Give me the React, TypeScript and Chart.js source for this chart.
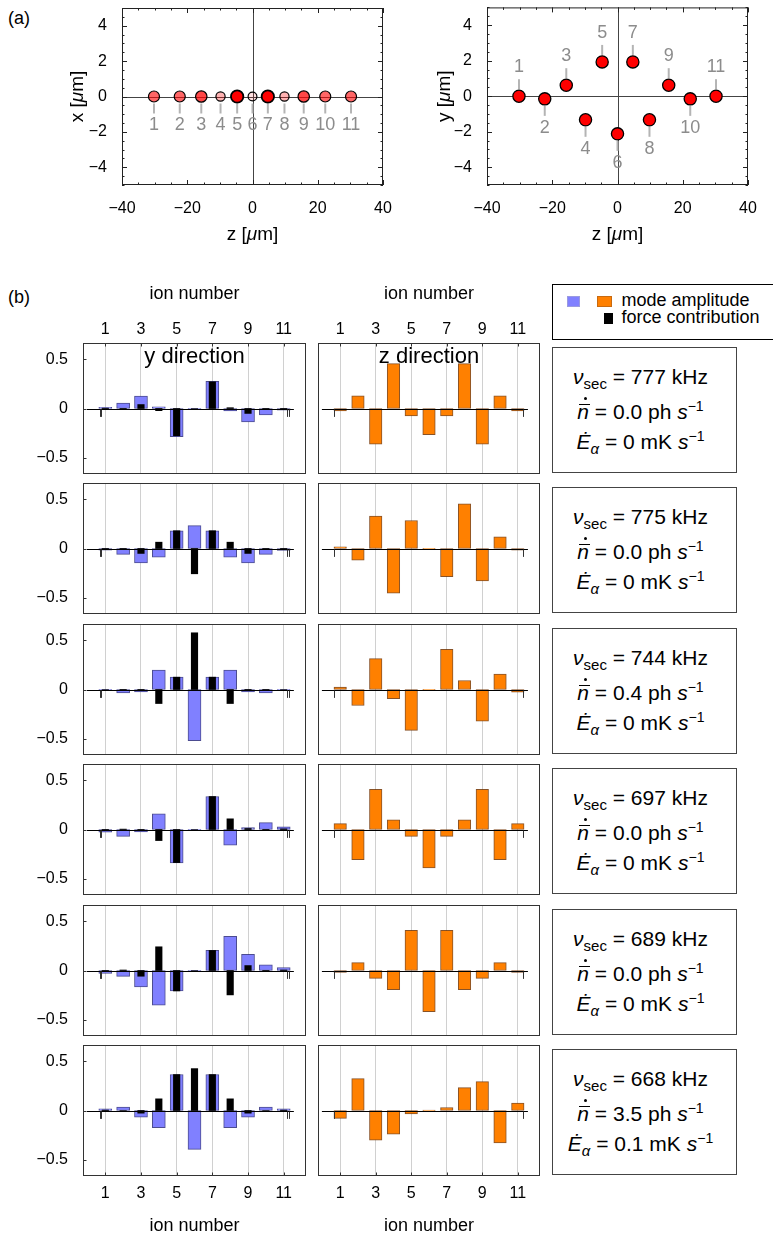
import React, { useEffect, useRef } from 'react';
import { Chart, registerables } from 'chart.js';

Chart.register(...registerables);

const FONT = "'Liberation Sans', Arial, Helvetica, sans-serif";

// ---------------- Panel (a): ion crystal positions ----------------
const ION_NUMBERS = [1, 2, 3, 4, 5, 6, 7, 8, 9, 10, 11];
const ION_Z_UM = [-30.2, -22.3, -15.7, -9.8, -4.7, 0, 4.7, 9.8, 15.7, 22.3, 30.2];
const ION_X_UM = [0, 0, 0, 0, 0, 0, 0, 0, 0, 0, 0];
const ION_Y_UM = [0, -0.15, 0.62, -1.33, 1.93, -2.12, 1.93, -1.33, 0.62, -0.15, 0];
const Z_AXIS_TICKS = [-40, -20, 0, 20, 40];
const TRANSVERSE_TICKS = [-4, -2, 0, 2, 4];

// marker appearance in the x–z view (shade / size per ion)
const XZ_MARKER_ALPHA = [0.6, 0.6, 0.72, 0.3, 1, 0.12, 1, 0.3, 0.72, 0.6, 0.6];
const XZ_MARKER_RADIUS = [5.5, 5.5, 5.7, 4.6, 6.2, 4.4, 6.2, 4.6, 5.7, 5.5, 5.5];

// ---------------- Panel (b): mode vectors ----------------
const ION_AXIS_TICKS = [1, 3, 5, 7, 9, 11];
const AMPLITUDE_TICKS = [-0.5, 0, 0.5];
const MODE_FREQ_KHZ = [777, 775, 744, 697, 689, 668];
const PHONON_RATE = ['0.0', '0.0', '0.4', '0.0', '0.0', '3.5'];
const HEATING_RATE = ['0', '0', '0', '0', '0', '0.1'];

const Y_AMP_777 = [0.012, 0.054, 0.125, 0.017, -0.286, -0.004, 0.276, -0.024, -0.135, -0.064, -0.017];
const FORCE_777 = [0.004, 0.002, 0.04, -0.022, -0.275, 0, 0.27, 0.008, -0.05, -0.002, -0.01];
const Z_AMP_777 = [-0.024, 0.128, -0.36, 0.455, -0.074, -0.266, -0.074, 0.455, -0.36, 0.128, -0.024];

const Y_AMP_775 = [-0.017, -0.06, -0.145, -0.088, 0.18, 0.232, 0.18, -0.088, -0.145, -0.06, -0.02];
const FORCE_775 = [-0.003, -0.004, -0.05, 0.064, 0.18, -0.256, 0.18, 0.064, -0.05, -0.006, -0.003];
const Z_AMP_775 = [0.017, -0.118, 0.327, -0.451, 0.283, 0.002, -0.286, 0.451, -0.327, 0.118, -0.017];

const Y_AMP_744 = [-0.004, -0.034, -0.024, 0.196, 0.125, -0.517, 0.125, 0.196, -0.024, -0.034, -0.004];
const FORCE_744 = [0, -0.002, -0.008, -0.142, 0.125, 0.574, 0.125, -0.142, -0.006, -0.002, 0];
const Z_AMP_744 = [0.024, -0.162, 0.313, -0.094, -0.414, 0.002, 0.407, 0.091, -0.32, 0.155, -0.027];

const Y_AMP_697 = [-0.027, -0.07, -0.024, 0.159, -0.338, 0.002, 0.334, -0.159, 0.02, 0.07, 0.027];
const FORCE_697 = [-0.006, 0.004, -0.01, -0.112, -0.335, 0, 0.334, 0.108, 0.01, -0.004, 0.006];
const Z_AMP_697 = [0.06, -0.306, 0.407, 0.098, -0.07, -0.39, -0.07, 0.098, 0.407, -0.306, 0.06];

const Y_AMP_689 = [-0.03, -0.06, -0.166, -0.352, -0.207, 0.002, 0.203, 0.346, 0.163, 0.058, 0.03];
const FORCE_689 = [-0.004, 0.005, -0.058, 0.24, -0.207, 0, 0.203, -0.247, 0.05, -0.005, 0.005];
const Z_AMP_689 = [-0.02, 0.08, -0.08, -0.195, 0.407, -0.417, 0.407, -0.195, -0.08, 0.08, -0.02];

const Y_AMP_668 = [0.017, 0.034, -0.067, -0.175, 0.364, -0.394, 0.364, -0.175, -0.067, 0.034, 0.017];
const FORCE_668 = [0.005, 0, -0.027, 0.118, 0.364, 0.424, 0.364, 0.118, -0.027, 0, 0.005];
const Z_AMP_668 = [-0.08, 0.323, -0.3, -0.24, -0.034, 0.003, 0.03, 0.232, 0.293, -0.327, 0.074];

const Y_AMPS = [Y_AMP_777, Y_AMP_775, Y_AMP_744, Y_AMP_697, Y_AMP_689, Y_AMP_668];
const FORCES = [FORCE_777, FORCE_775, FORCE_744, FORCE_697, FORCE_689, FORCE_668];
const Z_AMPS = [Z_AMP_777, Z_AMP_775, Z_AMP_744, Z_AMP_697, Z_AMP_689, Z_AMP_668];

// ---------------- layout constants ----------------
const ROW_TOPS = [343, 483, 624, 764, 905, 1045];
const ROW_H = 131;
const BASELINE_FROM = -0.03;
const BASELINE_TO = 11.57;
const Y_PANEL_STUBS = [0.68, 0.78, 11.2, 11.3];
const Z_PANEL_STUBS = [0.66, 11.3];
const STUB_DEPTH = 0.085;

const fmtNum = (v: number) => (v < 0 ? '\u2212' + Math.abs(v) : String(v));

function sizeFix(size: number) {
  return (s: any) => {
    if (s.isHorizontal()) s.height = size;
    else s.width = size;
    s.paddingLeft = 0;
    s.paddingRight = 0;
    s.paddingTop = 0;
    s.paddingBottom = 0;
  };
}

function drawMixed(ctx: CanvasRenderingContext2D, parts: [string, boolean][], cx: number, cy: number, size: number, rotate: boolean) {
  ctx.save();
  ctx.translate(cx, cy);
  if (rotate) ctx.rotate(-Math.PI / 2);
  ctx.textBaseline = 'middle';
  ctx.textAlign = 'left';
  ctx.fillStyle = '#000';
  const fonts = parts.map(([, it]) => `${it ? 'italic ' : ''}${size}px ${FONT}`);
  let total = 0;
  const widths = parts.map(([t], i) => {
    ctx.font = fonts[i];
    const w = ctx.measureText(t).width;
    total += w;
    return w;
  });
  let x = -total / 2;
  parts.forEach(([t], i) => {
    ctx.font = fonts[i];
    ctx.fillText(t, x, 0);
    x += widths[i];
  });
  ctx.restore();
}

// ---------------- panel (a) config ----------------
function ionDeco(view: 'xz' | 'yz', yTitleX: number) {
  return {
    id: 'ionDeco',
    beforeDatasetsDraw(chart: any) {
      const { ctx, chartArea: a, scales } = chart;
      const xs = scales.x;
      const ys = scales.y;
      const vals = view === 'xz' ? ION_X_UM : ION_Y_UM;
      ctx.save();
      ctx.strokeStyle = '#444';
      ctx.lineWidth = 1;
      const x0 = Math.round(xs.getPixelForValue(0)) + 0.5;
      const y0 = Math.round(ys.getPixelForValue(0)) + 0.5;
      ctx.beginPath();
      ctx.moveTo(a.left, y0);
      ctx.lineTo(a.right, y0);
      ctx.moveTo(x0, a.top);
      ctx.lineTo(x0, a.bottom);
      ctx.stroke();
      // connectors
      ctx.strokeStyle = '#b4b4b4';
      ctx.lineWidth = 2;
      ION_NUMBERS.forEach((n, i) => {
        const side = view === 'xz' ? 1 : n % 2 === 1 ? -1 : 1;
        const px = xs.getPixelForValue(ION_Z_UM[i]);
        const py = ys.getPixelForValue(vals[i]);
        ctx.beginPath();
        ctx.moveTo(px, py + side * 7);
        ctx.lineTo(px, py + side * 17);
        ctx.stroke();
      });
      ctx.restore();
    },
    afterDatasetsDraw(chart: any) {
      const { ctx, scales } = chart;
      const xs = scales.x;
      const ys = scales.y;
      const vals = view === 'xz' ? ION_X_UM : ION_Y_UM;
      ctx.save();
      ctx.fillStyle = '#8c8c8c';
      ctx.font = `18px ${FONT}`;
      ctx.textAlign = 'center';
      ctx.textBaseline = 'middle';
      ION_NUMBERS.forEach((n, i) => {
        const side = view === 'xz' ? 1 : n % 2 === 1 ? -1 : 1;
        const px = xs.getPixelForValue(ION_Z_UM[i]);
        const py = ys.getPixelForValue(vals[i]);
        ctx.fillText(String(n), px, py + side * 29);
      });
      ctx.restore();
    },
    afterDraw(chart: any) {
      const { ctx, chartArea: a, scales } = chart;
      const xs = scales.x;
      const ys = scales.y;
      ctx.save();
      ctx.strokeStyle = '#222';
      ctx.lineWidth = 1;
      ctx.strokeRect(a.left + 0.5, a.top + 0.5, a.right - a.left - 1, a.bottom - a.top - 1);
      ctx.beginPath();
      for (let v = -40; v <= 40; v += 5) {
        const len = v % 20 === 0 ? 5 : 2.5;
        const px = Math.round(xs.getPixelForValue(v)) + 0.5;
        ctx.moveTo(px, a.bottom);
        ctx.lineTo(px, a.bottom - len);
        ctx.moveTo(px, a.top);
        ctx.lineTo(px, a.top + len);
      }
      for (let v = -5; v <= 5; v += 0.5) {
        const len = Math.abs(v % 2) < 1e-9 ? 5 : 2.5;
        const py = Math.round(ys.getPixelForValue(v)) + 0.5;
        ctx.moveTo(a.left, py);
        ctx.lineTo(a.left + len, py);
        ctx.moveTo(a.right, py);
        ctx.lineTo(a.right - len, py);
      }
      ctx.stroke();
      ctx.restore();
      drawMixed(ctx, [['z [', false], ['\u03bc', true], ['m]', false]], (a.left + a.right) / 2, 235, 19, false);
      drawMixed(ctx, [[view === 'xz' ? 'x [' : 'y [', false], ['\u03bc', true], ['m]', false]], yTitleX, (a.top + a.bottom) / 2, 19, true);
    },
  };
}

function ionConfig(view: 'xz' | 'yz') {
  const vals = view === 'xz' ? ION_X_UM : ION_Y_UM;
  const yAxisW = view === 'xz' ? 82 : 87;
  const yTitleX = view === 'xz' ? 38 : 45;
  return {
    type: 'scatter',
    data: {
      datasets: [
        {
          data: ION_Z_UM.map((z, i) => ({ x: z, y: vals[i] })),
          pointRadius: view === 'xz' ? XZ_MARKER_RADIUS : 6.1,
          pointBackgroundColor: view === 'xz' ? XZ_MARKER_ALPHA.map((al) => `rgba(255,0,0,${al})`) : '#ff0000',
          pointBorderColor: '#000',
          pointBorderWidth: view === 'xz' ? XZ_MARKER_ALPHA.map((al) => (al === 1 ? 1.8 : 1.2)) : 1.3,
        },
      ],
    },
    options: {
      responsive: false,
      animation: false,
      devicePixelRatio: 1,
      layout: { padding: { top: 3, right: 12, left: 0, bottom: 0 } },
      plugins: { legend: { display: false }, tooltip: { enabled: false } },
      scales: {
        x: {
          type: 'linear',
          min: -40,
          max: 40,
          afterBuildTicks: (s: any) => {
            s.ticks = Z_AXIS_TICKS.map((v) => ({ value: v }));
          },
          afterFit: sizeFix(65),
          grid: { display: false },
          border: { display: false },
          ticks: { font: { family: FONT, size: 16 }, color: '#000', padding: 6, maxRotation: 0, autoSkip: false, callback: (v: any) => fmtNum(Number(v)) },
        },
        y: {
          type: 'linear',
          min: -5,
          max: 5,
          afterBuildTicks: (s: any) => {
            s.ticks = TRANSVERSE_TICKS.map((v) => ({ value: v }));
          },
          afterFit: sizeFix(yAxisW),
          grid: { display: false },
          border: { display: false },
          ticks: { font: { family: FONT, size: 16 }, color: '#000', padding: 7, autoSkip: false, callback: (v: any) => fmtNum(Number(v)) },
        },
      },
    },
    plugins: [ionDeco(view, yTitleX)],
  };
}

// ---------------- panel (b) config ----------------
function barDeco(opts: { title?: string; stubs: number[]; yTicks: boolean; tickEdge: 'top' | 'bottom' | null }) {
  return {
    id: 'barDeco',
    afterDatasetsDraw(chart: any) {
      const { ctx, chartArea: a, scales } = chart;
      const xs = scales.x;
      const ys = scales.y;
      const y0 = Math.round(ys.getPixelForValue(0)) + 0.5;
      ctx.save();
      ctx.strokeStyle = '#000';
      ctx.lineWidth = 1.2;
      ctx.beginPath();
      ctx.moveTo(xs.getPixelForValue(BASELINE_FROM), y0);
      ctx.lineTo(xs.getPixelForValue(BASELINE_TO), y0);
      ctx.stroke();
      ctx.lineWidth = 1;
      ctx.strokeStyle = '#333';
      ctx.beginPath();
      opts.stubs.forEach((s) => {
        const px = Math.round(xs.getPixelForValue(s)) + 0.5;
        ctx.moveTo(px, y0);
        ctx.lineTo(px, ys.getPixelForValue(-STUB_DEPTH));
      });
      ctx.stroke();
      if (opts.title) {
        ctx.fillStyle = '#000';
        ctx.font = `22px ${FONT}`;
        ctx.textAlign = 'center';
        ctx.textBaseline = 'middle';
        ctx.fillText(opts.title, (a.left + a.right) / 2, a.top + 14);
      }
      ctx.restore();
    },
    afterDraw(chart: any) {
      const { ctx, chartArea: a, scales } = chart;
      const xs = scales.x;
      const ys = scales.y;
      ctx.save();
      ctx.strokeStyle = '#333';
      ctx.lineWidth = 1;
      ctx.strokeRect(a.left + 0.5, a.top + 0.5, a.right - a.left - 1, a.bottom - a.top - 1);
      ctx.beginPath();
      if (opts.yTicks) {
        AMPLITUDE_TICKS.forEach((v) => {
          const py = Math.round(ys.getPixelForValue(v)) + 0.5;
          ctx.moveTo(a.left, py);
          ctx.lineTo(a.left + 3.5, py);
        });
      }
      if (opts.tickEdge) {
        ION_AXIS_TICKS.forEach((v) => {
          const px = Math.round(xs.getPixelForValue(v)) + 0.5;
          if (opts.tickEdge === 'top') {
            ctx.moveTo(px, a.top);
            ctx.lineTo(px, a.top + 3.5);
          } else {
            ctx.moveTo(px, a.bottom);
            ctx.lineTo(px, a.bottom - 3.5);
          }
        });
      }
      ctx.stroke();
      ctx.restore();
    },
  };
}

function pts(vals: number[]) {
  return ION_NUMBERS.map((n, i) => ({ x: n, y: vals[i] }));
}

function barChartConfig(row: number, dir: 'y' | 'z') {
  const isTop = row === 0;
  const isBottom = row === ROW_TOPS.length - 1;
  const xAxisSize = isTop ? 73 : isBottom ? 63 : 3;
  const datasets =
    dir === 'y'
      ? [
          { label: 'force contribution', data: pts(FORCES[row]), backgroundColor: '#000', borderWidth: 0, barThickness: 6.5, grouped: false, order: 1 },
          { label: 'mode amplitude', data: pts(Y_AMPS[row]), backgroundColor: '#8080ff', borderColor: 'rgba(45,45,125,0.85)', borderWidth: 1, borderSkipped: false, barThickness: 13, grouped: false, order: 2 },
        ]
      : [
          { label: 'mode amplitude', data: pts(Z_AMPS[row]), backgroundColor: '#ff8000', borderColor: 'rgba(115,52,0,0.85)', borderWidth: 1, borderSkipped: false, barThickness: 12.5, grouped: false },
        ];
  return {
    type: 'bar',
    data: { datasets },
    options: {
      responsive: false,
      animation: false,
      devicePixelRatio: 1,
      layout: { padding: { left: dir === 'y' ? 0 : 4, right: 3, top: isTop ? 0 : 3, bottom: isTop ? 3 : 0 } },
      plugins: { legend: { display: false }, tooltip: { enabled: false } },
      scales: {
        x: {
          type: 'linear',
          position: isTop ? 'top' : 'bottom',
          min: -0.25,
          max: 12.25,
          offset: false,
          afterBuildTicks: (s: any) => {
            s.ticks = ION_AXIS_TICKS.map((v) => ({ value: v }));
          },
          afterFit: sizeFix(xAxisSize),
          grid: { color: '#d0d0d0', lineWidth: 1, drawTicks: false, offset: false },
          border: { display: false },
          ticks: { display: isTop || isBottom, font: { family: FONT, size: 16 }, color: '#000', padding: isTop ? 4 : 8, maxRotation: 0, autoSkip: false },
          title: {
            display: isTop || isBottom,
            text: 'ion number',
            font: { family: FONT, size: 18 },
            color: '#000',
            padding: isTop ? { top: 13, bottom: 0 } : { top: 0, bottom: 2 },
          },
        },
        y: {
          type: 'linear',
          display: dir === 'y',
          min: -0.663,
          max: 0.663,
          afterBuildTicks: (s: any) => {
            s.ticks = AMPLITUDE_TICKS.map((v) => ({ value: v }));
          },
          afterFit: dir === 'y' ? sizeFix(53) : undefined,
          grid: { display: false },
          border: { display: false },
          ticks: { font: { family: FONT, size: 16 }, color: '#000', padding: 7, autoSkip: false, callback: (v: any) => fmtNum(Number(v)) },
        },
      },
    },
    plugins: [
      barDeco({
        title: isTop ? (dir === 'y' ? 'y direction' : 'z direction') : undefined,
        stubs: dir === 'y' ? Y_PANEL_STUBS : Z_PANEL_STUBS,
        yTicks: dir === 'y',
        tickEdge: isTop ? 'top' : isBottom ? 'bottom' : null,
      }),
    ],
  };
}

// ---------------- components ----------------
function ChartBox({ left, top, width, height, make }: { left: number; top: number; width: number; height: number; make: () => any }) {
  const ref = useRef<HTMLCanvasElement | null>(null);
  useEffect(() => {
    if (!ref.current) return;
    const chart = new Chart(ref.current, make());
    return () => chart.destroy();
  }, []);
  return <canvas ref={ref} width={width} height={height} style={{ position: 'absolute', left, top, width, height, display: 'block' }} />;
}

function NBarDot() {
  return (
    <span style={{ position: 'relative', display: 'inline-block', lineHeight: '26px' }}>
      <i>n</i>
      <span style={{ position: 'absolute', left: 1.5, width: 11, top: 4.5, height: 0, borderTop: '1.5px solid #000' }} />
      <span style={{ position: 'absolute', left: 7, top: -2, width: 3, height: 3, borderRadius: '50%', background: '#000' }} />
    </span>
  );
}

function InfoBox({ top, freq, ndot, edot }: { top: number; freq: number; ndot: string; edot: string }) {
  const line = (c: number, children: React.ReactNode) => (
    <div style={{ position: 'absolute', left: 0, right: 0, top: c - 13, height: 26, lineHeight: '26px', textAlign: 'center', paddingRight: 8, whiteSpace: 'nowrap' }}>{children}</div>
  );
  const sub = (t: string, italic = false) => (
    <span style={{ fontSize: 15, position: 'relative', top: 5, fontStyle: italic ? 'italic' : 'normal' }}>{t}</span>
  );
  const sup = (t: string) => <span style={{ fontSize: 14, position: 'relative', top: -8 }}>{t}</span>;
  return (
    <div style={{ position: 'absolute', left: 552, top, width: 185, height: 126, border: '1px solid #444', boxSizing: 'border-box', fontSize: 21, color: '#000' }}>
      {line(29, <><i>{'\u03bd'}</i>{sub('sec')} = {freq} kHz</>)}
      {line(64, <><NBarDot /> = {ndot} ph <i>s</i>{sup('\u22121')}</>)}
      {line(94, <><i>{'\u0116'}</i>{sub('\u03b1', true)} = {edot} mK <i>s</i>{sup('\u22121')}</>)}
    </div>
  );
}

function Legend() {
  const sw = (left: number, top: number, w: number, h: number, bg: string, bd: string) => (
    <div style={{ position: 'absolute', left, top, width: w, height: h, background: bg, border: `1px solid ${bd}`, boxSizing: 'border-box' }} />
  );
  return (
    <div style={{ position: 'absolute', left: 552, top: 284, width: 240, height: 56, border: '1.5px solid #000', boxSizing: 'border-box', fontSize: 18 }}>
      {sw(13.5, 10.5, 13, 11.5, '#8080ff', '#9a9ae0')}
      {sw(43.5, 10.5, 15, 11.5, '#ff8000', '#c86a10')}
      {sw(50.5, 27.5, 9.5, 11.5, '#000', '#000')}
      <div style={{ position: 'absolute', left: 68.5, top: 3.2, lineHeight: '24px', whiteSpace: 'nowrap' }}>mode amplitude</div>
      <div style={{ position: 'absolute', left: 68.5, top: 20.2, lineHeight: '24px', whiteSpace: 'nowrap' }}>force contribution</div>
    </div>
  );
}

export default function App() {
  return (
    <div style={{ position: 'absolute', left: 0, top: 0, width: 773, height: 1239, overflow: 'hidden', background: '#fff', fontFamily: FONT, color: '#000' }}>
      <div style={{ position: 'absolute', left: 8, top: 6, fontSize: 18, lineHeight: '24px' }}>(a)</div>
      <ChartBox left={40} top={0} width={355} height={250} make={() => ionConfig('xz')} />
      <ChartBox left={400} top={0} width={360} height={250} make={() => ionConfig('yz')} />
      <div style={{ position: 'absolute', left: 8, top: 285, fontSize: 18, lineHeight: '24px' }}>(b)</div>
      {ROW_TOPS.map((T, r) => {
        const isTop = r === 0;
        const isBottom = r === ROW_TOPS.length - 1;
        const cTop = isTop ? T - 73 : T - 3;
        const cH = isTop ? 73 + ROW_H + 3 : isBottom ? 3 + ROW_H + 63 : 3 + ROW_H + 3;
        return (
          <React.Fragment key={r}>
            <ChartBox left={30} top={cTop} width={279} height={cH} make={() => barChartConfig(r, 'y')} />
            <ChartBox left={314} top={cTop} width={229} height={cH} make={() => barChartConfig(r, 'z')} />
            <InfoBox top={T + 4} freq={MODE_FREQ_KHZ[r]} ndot={PHONON_RATE[r]} edot={HEATING_RATE[r]} />
          </React.Fragment>
        );
      })}
      <Legend />
    </div>
  );
}
